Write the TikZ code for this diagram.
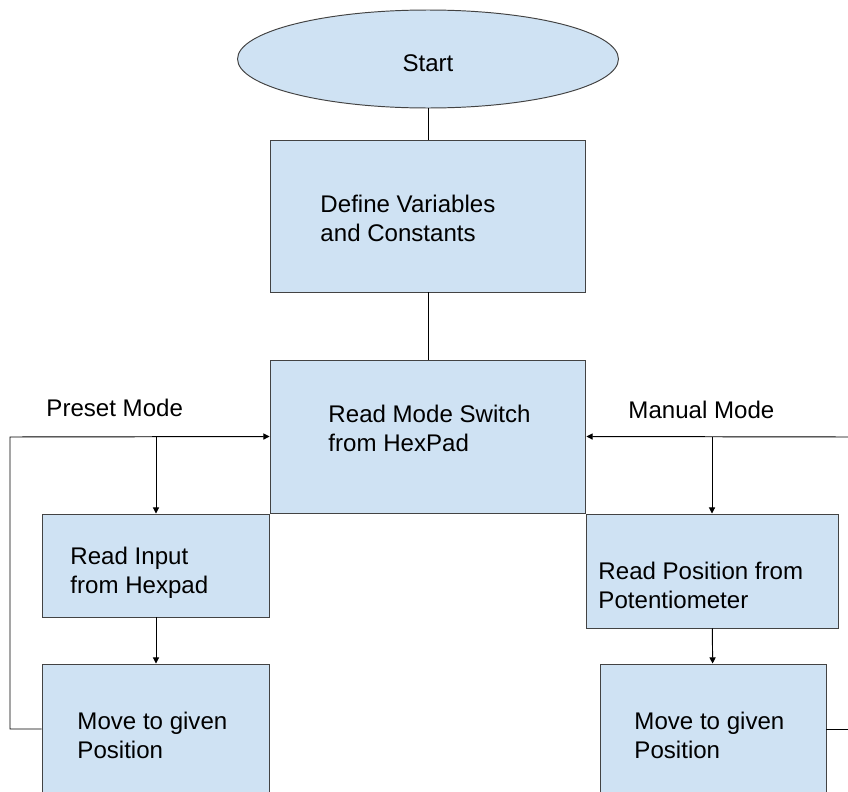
\documentclass[tikz,border=0pt]{standalone}
\usepackage{fontspec}
\setmainfont{Liberation Sans}
\usetikzlibrary{shapes.geometric,arrows.meta}
\definecolor{boxblue}{HTML}{CFE2F3}
\definecolor{edgegray}{HTML}{434343}
\begin{document}
\begin{tikzpicture}[x=0.02cm,y=-0.02cm,line width=0.55pt,
	box/.style={draw=edgegray,line width=0.55pt,fill=boxblue,inner sep=0},
	txt/.style={anchor=west,align=left,inner sep=0,font=\fontsize{13.7}{16.4}\selectfont},
	arr/.style={-{Triangle[length=3.5pt,width=3.5pt]}}]
		\useasboundingbox (0,0) rectangle (848,791);
		\clip (0,0) rectangle (848,791);
		\node[box,ellipse,minimum width=7.62cm,minimum height=1.96cm,text height=14.4pt,text depth=0pt,font=\fontsize{13.7}{16.4}\selectfont] (start) at (428,59) {Start};
		\node[box,minimum width=6.32cm,minimum height=3.04cm] (define) at (428,216) {};
		\node[box,minimum width=6.32cm,minimum height=3.06cm] (mode) at (428,436.5) {};
		\node[box,minimum width=4.56cm,minimum height=2.06cm] (inputL) at (156,565.5) {};
		\node[box,minimum width=5.04cm,minimum height=2.28cm] (posR) at (712,571) {};
		\node[box,minimum width=4.56cm,minimum height=2.6cm] (moveL) at (156,729) {};
		\node[box,minimum width=4.52cm,minimum height=2.6cm] (moveR) at (713,729) {};
		\node[txt] (defineTxt) at (320,218.5) {Define Variables\\and Constants};
		\node[txt] (modeTxt) at (328,428.5) {Read Mode Switch\\from HexPad};
		\node[txt] (inputTxt) at (70,572.5) {Read Input\\from Hexpad};
		\node[txt] (posTxt) at (598,585.5) {Read Position from\\Potentiometer};
		\node[txt] (moveLTxt) at (77,735) {Move to given\\Position};
		\node[txt] (moveRTxt) at (634,735) {Move to given\\Position};
		\node[txt] (presetLbl) at (46,408) {Preset Mode};
		\node[txt] (manualLbl) at (628,410) {Manual Mode};
		\coordinate (loopL) at (10,437);
		\coordinate (edgeR) at (848,437);
		\draw (start) -- (define);
		\draw (define) -- (mode);
		\draw[arr] (moveL.west) -| (loopL) -- (mode.west);
		\draw[arr] (inputL.north |- mode.west) -- (inputL.north);
		\draw[arr] (inputL) -- (moveL);
		\draw[arr] (edgeR) -- (mode.east);
		\draw[arr] (posR.north |- mode.east) -- (posR.north);
		\draw[arr] (posR) -- (moveR);
		\draw (moveR.east) -- (moveR.east -| edgeR);
	\end{tikzpicture}
\end{document}
